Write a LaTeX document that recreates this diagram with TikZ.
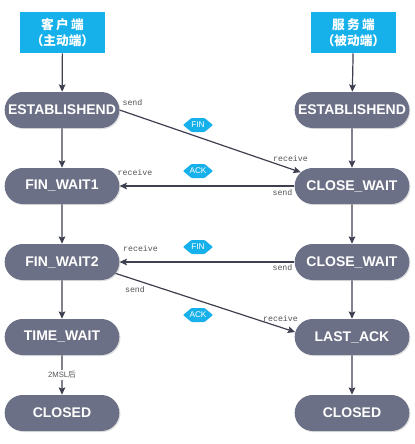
\documentclass[tikz,border=0pt]{standalone}
\usepackage{fontspec}
\setmainfont{Liberation Sans}
\newfontfamily\cjk{Noto Sans CJK SC}
\newfontfamily\monof{Liberation Mono}
\usetikzlibrary{shapes.misc,arrows.meta,shadows}
\definecolor{stgray}{RGB}{108,112,134}
\definecolor{hdrblue}{RGB}{22,176,234}
\definecolor{arrgray}{RGB}{62,64,80}
\definecolor{lblgray}{RGB}{85,85,90}
\begin{document}
\begin{tikzpicture}[x=0.75pt,y=-0.75pt,
 state/.style={rounded rectangle, fill=stgray, text=white, font=\bfseries\fontsize{10.5}{12}\selectfont, minimum width=86pt, minimum height=27pt, inner sep=0pt, drop shadow={opacity=0.25,shadow xshift=0.8pt,shadow yshift=-0.8pt}},
 header/.style={rectangle, fill=hdrblue, text=white, font=\cjk\bfseries\fontsize{9.5}{12}\selectfont, minimum width=63.75pt, minimum height=30.75pt, align=center, inner sep=0pt},
 flow/.style={draw=arrgray, line width=0.9pt, -{Stealth[length=5.5pt,width=5pt,inset=1pt]}},
 lbl/.style={text=lblgray, font=\monof\fontsize{6.2}{7}\selectfont, inner sep=0pt},
 msgtxt/.style={text=white, font=\fontsize{6.2}{6}\selectfont, inner sep=0pt},
 msgtag/.pic={\fill[hdrblue, rounded corners=0.6pt] (-15,0) -- (-6.5,-7) -- (6.5,-7) -- (15,0) -- (6.5,7) -- (-6.5,7) -- cycle;
   \node[msgtxt] (-t) at (0,0) {#1};},
]
\fill[white] (0,0) rectangle (415,444);
\useasboundingbox (0,0) rectangle (415,444);

% headers
\node[header] (h1) at (62.5,32.5) {客\hspace{1.8pt}户\hspace{1.8pt}端\\（主动端）};
\node[header] (h2) at (353.5,32.5) {服\hspace{1.8pt}务\hspace{1.8pt}端\\（被动端）};

% left column
\node[state] (e1) at (62,110) {ESTABLISHEND};
\node[state] (fw1) at (62,186) {FIN\_WAIT1};
\node[state] (fw2) at (62,262) {FIN\_WAIT2};
\node[state] (tw) at (62,337) {TIME\_WAIT};
\node[state] (c1) at (62,413) {CLOSED};

% right column
\node[state] (e2) at (352,110) {ESTABLISHEND};
\node[state] (cw1) at (352,186) {CLOSE\_WAIT};
\node[state] (cw2) at (352,262) {CLOSE\_WAIT};
\node[state] (la) at (352,337) {LAST\_ACK};
\node[state] (c2) at (352,413) {CLOSED};

% vertical flows
\draw[flow] (h1) -- (e1);
\draw[flow] (e1) -- (fw1);
\draw[flow] (fw1) -- (fw2);
\draw[flow] (fw2) -- (tw);
\draw[flow] (tw) -- (c1) node[pos=0.5, fill=white, text=lblgray, inner sep=1pt, font=\fontsize{5.8}{7}\selectfont] (msl) {2MSL{\cjk 后}};
\draw[flow] (h2) -- (e2);
\draw[flow] (e2) -- (cw1);
\draw[flow] (cw1) -- (cw2);
\draw[flow] (cw2) -- (la);
\draw[flow] (la) -- (c2);

% cross flows
\draw[flow] (e1.east) -- (cw1.165);
\draw[flow] (cw1.west) -- (fw1.east);
\draw[flow] (cw2.west) -- (fw2.east);
\draw[flow] (fw2.-12) -- (la.175);

% message tags
\pic (m1) at (198,125) {msgtag=FIN};
\pic (m2) at (198,171) {msgtag=ACK};
\pic (m3) at (198,247) {msgtag=FIN};
\pic (m4) at (198,315) {msgtag=ACK};

% labels
\node[lbl] (s1) at (132.5,103) {send};
\node[lbl] (r1) at (290.5,159) {receive};
\node[lbl] (r2) at (135,173) {receive};
\node[lbl] (s2) at (282.5,193) {send};
\node[lbl] (r3) at (140.5,249) {receive};
\node[lbl] (s3) at (282.5,268) {send};
\node[lbl] (s4) at (135,290) {send};
\node[lbl] (r4) at (280.5,319) {receive};
\end{tikzpicture}
\end{document}
